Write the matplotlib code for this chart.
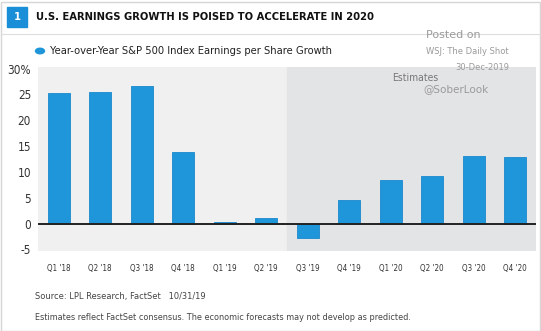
import matplotlib.pyplot as plt
import numpy as np

quarters = ["Q1 '18", "Q2 '18", "Q3 '18", "Q4 '18", "Q1 '19", "Q2 '19",
            "Q3 '19", "Q4 '19", "Q1 '20", "Q2 '20", "Q3 '20", "Q4 '20"]
eps_growth = [25.3, 25.5, 26.6, 13.8, 0.4, 1.1, -2.7, 4.6, 8.5, 9.3, 13.0, 12.8]
y_ticks = [-5, 0, 5, 10, 15, 20, 25, 30]
y_labels = ['-5', '0', '5', '10', '15', '20', '25', '30%']
first_estimate = 6

plt.rcParams['font.family'] = ['DejaVu Sans']
plt.rcParams['font.stretch'] = 'condensed'

W, H = 541, 331
fig = plt.figure(figsize=(W / 100, H / 100), dpi=100)
fig.patch.set_facecolor('white')

blue = '#1e96d9'

# rahmen
fig.add_artist(plt.Rectangle((0.5 / W, 0.5 / H), (W - 2) / W, (H - 2) / H,
                             fill=False, edgecolor='#d6d6d6', lw=1, transform=fig.transFigure))
# numer
fig.add_artist(plt.Rectangle((7 / W, 1 - 27 / H), 20 / W, 20 / H, color='#1a8ed6',
                             transform=fig.transFigure))
fig.text(17 / W, 1 - 17 / H, '1', color='white', fontsize=8, fontweight='bold',
         ha='center', va='center')
fig.text(36 / W, 1 - 17 / H, 'U.S. EARNINGS GROWTH IS POISED TO ACCELERATE IN 2020',
         fontsize=8, fontweight='bold', color='#111111', va='center', ha='left')
fig.add_artist(plt.Line2D([1 / W, 540 / W], [1 - 34 / H, 1 - 34 / H], color='#dddddd', lw=0.8,
                          transform=fig.transFigure))

# legenda
fig.add_artist(plt.Circle((40 / W, 1 - 51 / H), 4.5 / W, color=blue, transform=fig.transFigure))
fig.text(50 / W, 1 - 51 / H, 'Year-over-Year S&P 500 Index Earnings per Share Growth',
         fontsize=8, color='#222222', va='center', ha='left')

# wykres
ax = fig.add_axes([38 / W, 1 - 251 / H, (536 - 38) / W, (251 - 67) / H])
x = np.arange(len(quarters))
ax.set_xlim(-0.5, len(quarters) - 0.5)
ax.set_ylim(-5.3, 30.3)
ax.set_facecolor('#f0f0f0')
ax.axvspan(first_estimate - 0.5, len(quarters) - 0.5, color='#e3e4e6', zorder=0)
ax.bar(x, eps_growth, width=0.52, color=blue, edgecolor='#1b88cc', lw=0.6, zorder=2)
ax.axhline(0, color='#222222', lw=1.4, zorder=3)

ax.set_xticks(x)
ax.set_xticklabels(quarters, fontsize=5.8, color='#333333')
ax.set_yticks(y_ticks)
ax.set_yticklabels(y_labels, fontsize=8.5, color='#333333')
ax.tick_params(length=0, axis='x', pad=9)
ax.tick_params(length=0, axis='y', pad=5)
for s in ax.spines.values():
    s.set_visible(False)

ax.text(8.6, 28.2, 'Estimates', fontsize=7.5, color='#777777', ha='center', va='center')

# zrodlo
fig.text(35 / W, 1 - 297 / H, 'Source: LPL Research, FactSet   10/31/19',
         fontsize=6.7, color='#444444', va='center')
fig.text(35 / W, 1 - 318 / H,
         'Estimates reflect FactSet consensus. The economic forecasts may not develop as predicted.',
         fontsize=6.5, color='#444444', va='center')

# znak wodny
fig.text(426 / W, 1 - 35 / H, 'Posted on', fontsize=8, color='#9a9a9a',
         family='DejaVu Sans', stretch='normal', va='center')
fig.text(426 / W, 1 - 51 / H, 'WSJ: The Daily Shot', fontsize=6, color='#9a9a9a',
         family='DejaVu Sans', stretch='normal', va='center')
fig.text(455 / W, 1 - 67 / H, '30-Dec-2019', fontsize=6, color='#9a9a9a',
         family='DejaVu Sans', stretch='normal', va='center')
fig.text(423 / W, 1 - 89 / H, '@SoberLook', fontsize=7.5, color='#9a9a9a',
         family='DejaVu Sans', stretch='normal', va='center')

fig.savefig('out.png', dpi=100)
